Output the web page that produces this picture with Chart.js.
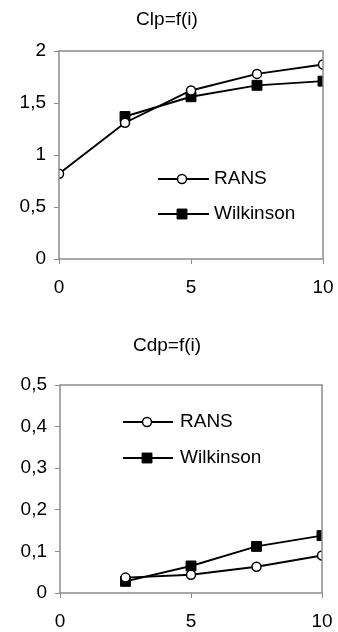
<!DOCTYPE html>
<html>
<head>
<meta charset="utf-8">
<script src="https://cdn.jsdelivr.net/npm/chart.js@4/dist/chart.umd.min.js"></script>
<style>
  body { margin: 0; background: #fff; }
  .box { position: absolute; left: 0; width: 338px; height: 316px; }
</style>
</head>
<body>
<div class="box" style="top:0"><canvas id="clp" width="338" height="316"></canvas></div>
<div class="box" style="top:316px"><canvas id="cdp" width="338" height="316"></canvas></div>
<script>
// chart data
const seriesNames = ['RANS', 'Wilkinson'];

const clpRansX = [0, 2.5, 5, 7.5, 10];
const clpRans = [0.82, 1.31, 1.62, 1.78, 1.87];
const clpWilkX = [2.5, 5, 7.5, 10];
const clpWilk = [1.37, 1.56, 1.67, 1.71];
const clpTicksX = [0, 5, 10];
const clpTicksY = [0, 0.5, 1, 1.5, 2];

const cdpRansX = [2.5, 5, 7.5, 10];
const cdpRans = [0.037, 0.044, 0.063, 0.09];
const cdpWilkX = [2.5, 5, 7.5, 10];
const cdpWilk = [0.028, 0.065, 0.112, 0.138];
const cdpTicksX = [0, 5, 10];
const cdpTicksY = [0, 0.1, 0.2, 0.3, 0.4, 0.5];

const FONT = "'Liberation Sans', Arial, sans-serif";
const GRAY = '#8c8c8c';

function toPoints(xs, ys) {
    return xs.map((x, i) => ({ x: x, y: ys[i] }));
}

function commaLabel(v) {
    return String(Math.round(v * 10) / 10).replace('.', ',');
}

// box round plot area, title and legend drawn inside the plot
const decorPlugin = {
    id: 'decor',
    afterDraw(chart, args, opts) {
        const ctx = chart.ctx;
        const a = chart.chartArea;
        ctx.save();
        ctx.strokeStyle = GRAY;
        ctx.lineWidth = 1.5;
        ctx.strokeRect(a.left, a.top, a.right - a.left, a.bottom - a.top);

        ctx.fillStyle = '#000';
        ctx.font = '19px ' + FONT;
        ctx.textAlign = 'center';
        ctx.textBaseline = 'middle';
        ctx.fillText(opts.title, opts.titleX, opts.titleY);

        chart.data.datasets.forEach((ds, i) => {
            const y = opts.rows[i];
            ctx.strokeStyle = '#000';
            ctx.lineWidth = 1.8;
            ctx.beginPath();
            ctx.moveTo(opts.lineX1, y);
            ctx.lineTo(opts.lineX2, y);
            ctx.stroke();
            ctx.fillStyle = ds.pointBackgroundColor;
            ctx.strokeStyle = '#000';
            ctx.lineWidth = ds.pointBorderWidth;
            Chart.helpers.drawPoint(ctx, {
                pointStyle: ds.pointStyle,
                radius: ds.pointRadius,
                borderWidth: ds.pointBorderWidth,
                rotation: 0
            }, opts.markX, y);
            ctx.fillStyle = '#000';
            ctx.font = '19px ' + FONT;
            ctx.textAlign = 'left';
            ctx.fillText(ds.label, opts.textX, y);
        });
        ctx.restore();
    }
};

function makeChart(id, ransX, rans, wilkX, wilk, ticksX, ticksY, layout, decor) {
    const ctx = document.getElementById(id).getContext('2d');
    return new Chart(ctx, {
        type: 'line',
        data: {
            datasets: [{
                label: seriesNames[0],
                data: toPoints(ransX, rans),
                borderColor: '#000',
                borderWidth: 1.9,
                pointStyle: 'circle',
                pointRadius: 4.5,
                pointBorderWidth: 1.5,
                pointBackgroundColor: '#fff',
                pointBorderColor: '#000',
                tension: 0
            }, {
                label: seriesNames[1],
                data: toPoints(wilkX, wilk),
                borderColor: '#000',
                borderWidth: 1.9,
                pointStyle: 'rect',
                pointRadius: 7,
                pointBorderWidth: 1,
                pointBackgroundColor: '#000',
                pointBorderColor: '#000',
                tension: 0
            }]
        },
        options: {
            responsive: false,
            animation: false,
            layout: { padding: { top: layout.top, right: layout.right, left: 0, bottom: 0 } },
            plugins: {
                legend: { display: false },
                tooltip: { enabled: false },
                decor: decor
            },
            scales: {
                x: {
                    type: 'linear',
                    min: ticksX[0],
                    max: ticksX[ticksX.length - 1],
                    afterBuildTicks: (scale) => { scale.ticks = ticksX.map(v => ({ value: v })); },
                    afterFit: (scale) => {
                        scale.height = layout.xHeight;
                        // the outer labels may hang over; the layout padding covers them
                        scale.paddingLeft = 0;
                        scale.paddingRight = 0;
                    },
                    border: { display: false },
                    grid: { drawOnChartArea: false, drawTicks: true, tickLength: 5, color: GRAY, lineWidth: 1 },
                    ticks: { color: '#000', padding: 12, font: { family: FONT, size: 19 }, maxRotation: 0 }
                },
                y: {
                    type: 'linear',
                    min: ticksY[0],
                    max: ticksY[ticksY.length - 1],
                    afterBuildTicks: (scale) => { scale.ticks = ticksY.map(v => ({ value: v })); },
                    afterFit: (scale) => { scale.width = layout.yWidth; },
                    border: { display: false },
                    grid: { drawOnChartArea: false, drawTicks: true, tickLength: 5, color: GRAY, lineWidth: 1 },
                    ticks: { color: '#000', padding: layout.yPad, font: { family: FONT, size: 19 }, callback: commaLabel }
                }
            }
        },
        plugins: [decorPlugin]
    });
}

makeChart('clp', clpRansX, clpRans, clpWilkX, clpWilk, clpTicksX, clpTicksY,
    { top: 51, right: 15, yWidth: 59, xHeight: 57, yPad: 8 },
    { title: 'Clp=f(i)', titleX: 167, titleY: 20, rows: [179, 214], lineX1: 158, lineX2: 209, markX: 182, textX: 214 });

makeChart('cdp', cdpRansX, cdpRans, cdpWilkX, cdpWilk, cdpTicksX, cdpTicksY,
    { top: 69, right: 16, yWidth: 60, xHeight: 39, yPad: 8 },
    { title: 'Cdp=f(i)', titleX: 167, titleY: 30, rows: [106, 142], lineX1: 123, lineX2: 173, markX: 147, textX: 180 });
</script>
</body>
</html>
